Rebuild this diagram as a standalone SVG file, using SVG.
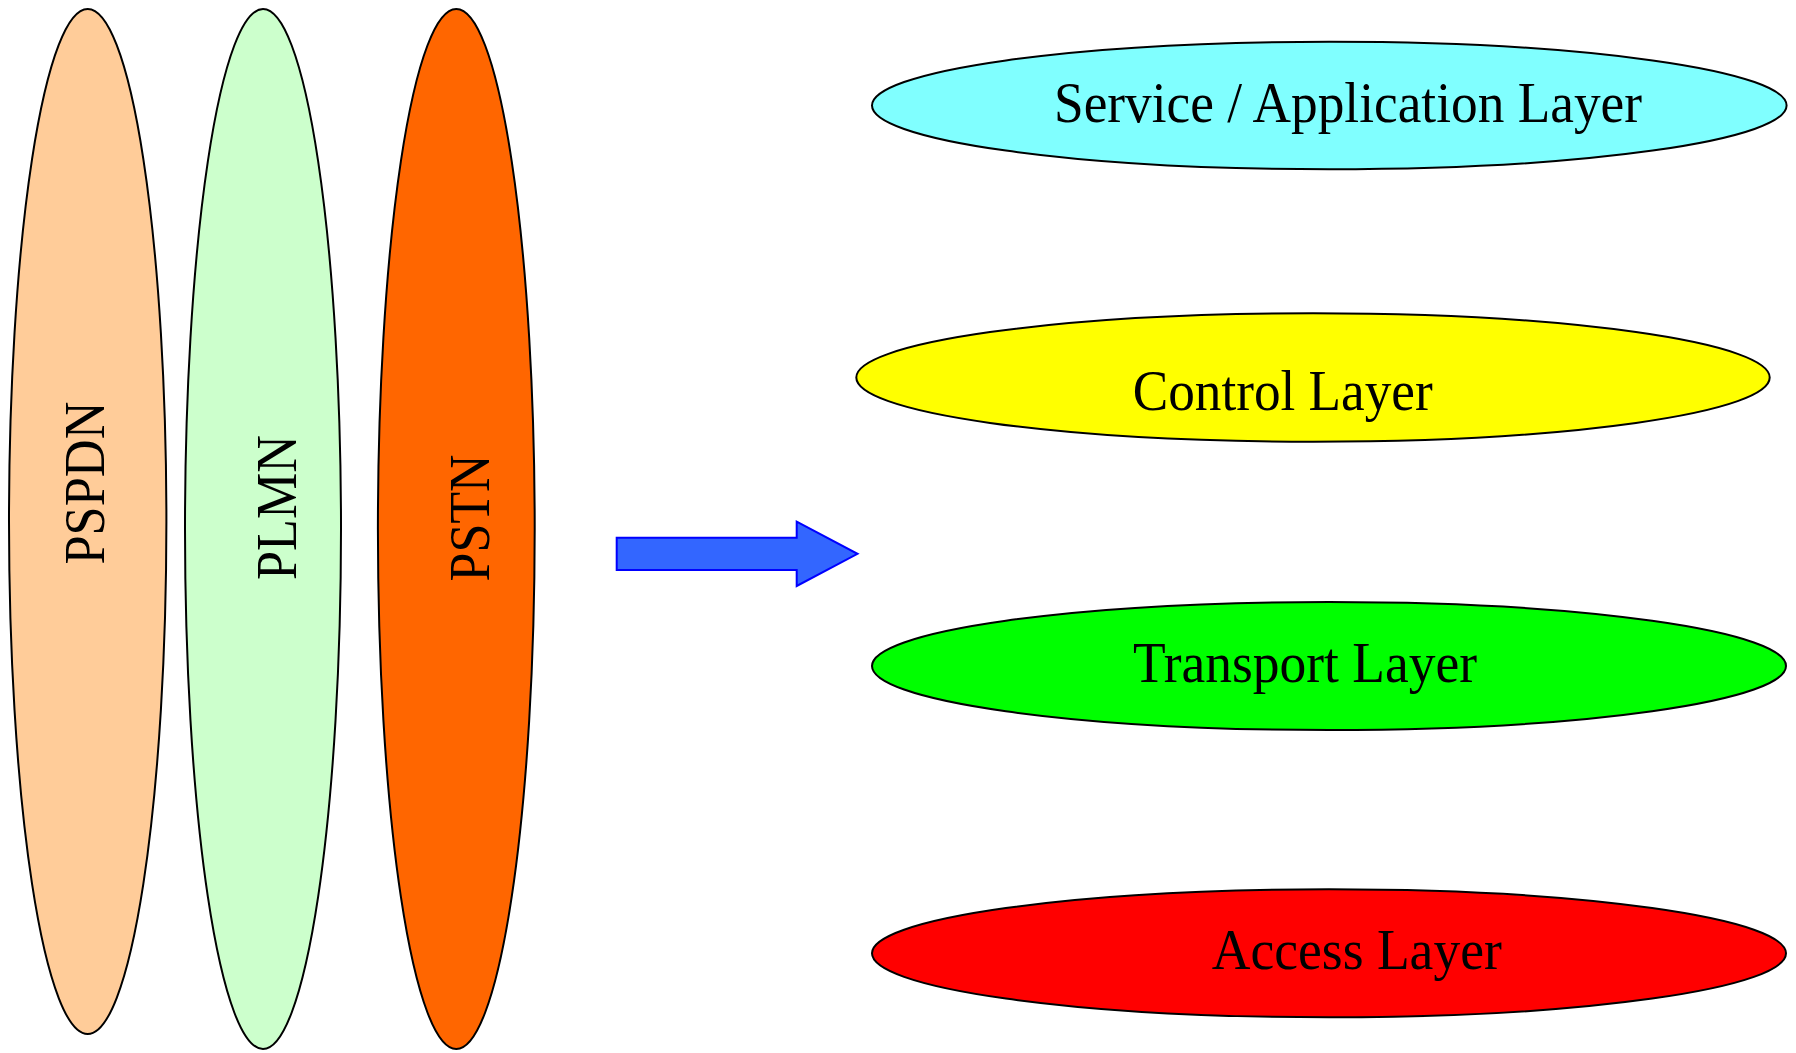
<svg xmlns="http://www.w3.org/2000/svg" width="1796" height="1053" viewBox="0 0 1796 1053">
<style>
.n{stroke:#000;stroke-width:2}
.t{font-family:"Liberation Serif","Times New Roman",serif;font-size:56px;fill:#000;text-anchor:middle}
</style>
<rect width="1796" height="1053" fill="#fff"/>
<g id="pspdn"><ellipse class="n" cx="87.7" cy="521.5" rx="78.7" ry="512.5" fill="#ffcc99"/><text class="t" transform="translate(104.3,483) rotate(-90)" textLength="163" lengthAdjust="spacingAndGlyphs">PSPDN</text></g>
<g id="plmn"><ellipse class="n" cx="263" cy="529" rx="78" ry="520" fill="#ccffcc"/><text class="t" transform="translate(296.4,507.5) rotate(-90)" textLength="145" lengthAdjust="spacingAndGlyphs">PLMN</text></g>
<g id="pstn"><ellipse class="n" cx="456.3" cy="529" rx="78.4" ry="520" fill="#ff6600"/><text class="t" transform="translate(488.6,518) rotate(-90)" textLength="127" lengthAdjust="spacingAndGlyphs">PSTN</text></g>
<g id="connectors"><polygon points="616.7,537.7 796.7,537.7 796.7,521.7 857.5,553.8 796.7,586 796.7,570 616.7,570" fill="#3366ff" stroke="#0000ff" stroke-width="2"/></g>
<g id="service"><ellipse class="n" cx="1329.3" cy="105.5" rx="457.3" ry="63.8" fill="#80ffff"/><text class="t" x="1348" y="121.7" textLength="588" lengthAdjust="spacingAndGlyphs">Service / Application Layer</text></g>
<g id="control"><ellipse class="n" cx="1313" cy="377.5" rx="456.7" ry="64.2" fill="#ffff00"/><text class="t" x="1282.7" y="410" textLength="300" lengthAdjust="spacingAndGlyphs">Control Layer</text></g>
<g id="transport"><ellipse class="n" cx="1329" cy="666" rx="457" ry="64" fill="#00ff00"/><text class="t" x="1305" y="681.7" textLength="344" lengthAdjust="spacingAndGlyphs">Transport Layer</text></g>
<g id="access"><ellipse class="n" cx="1329" cy="953.3" rx="457" ry="64" fill="#ff0000"/><text class="t" x="1356.8" y="969.3" textLength="290" lengthAdjust="spacingAndGlyphs">Access Layer</text></g>
</svg>
